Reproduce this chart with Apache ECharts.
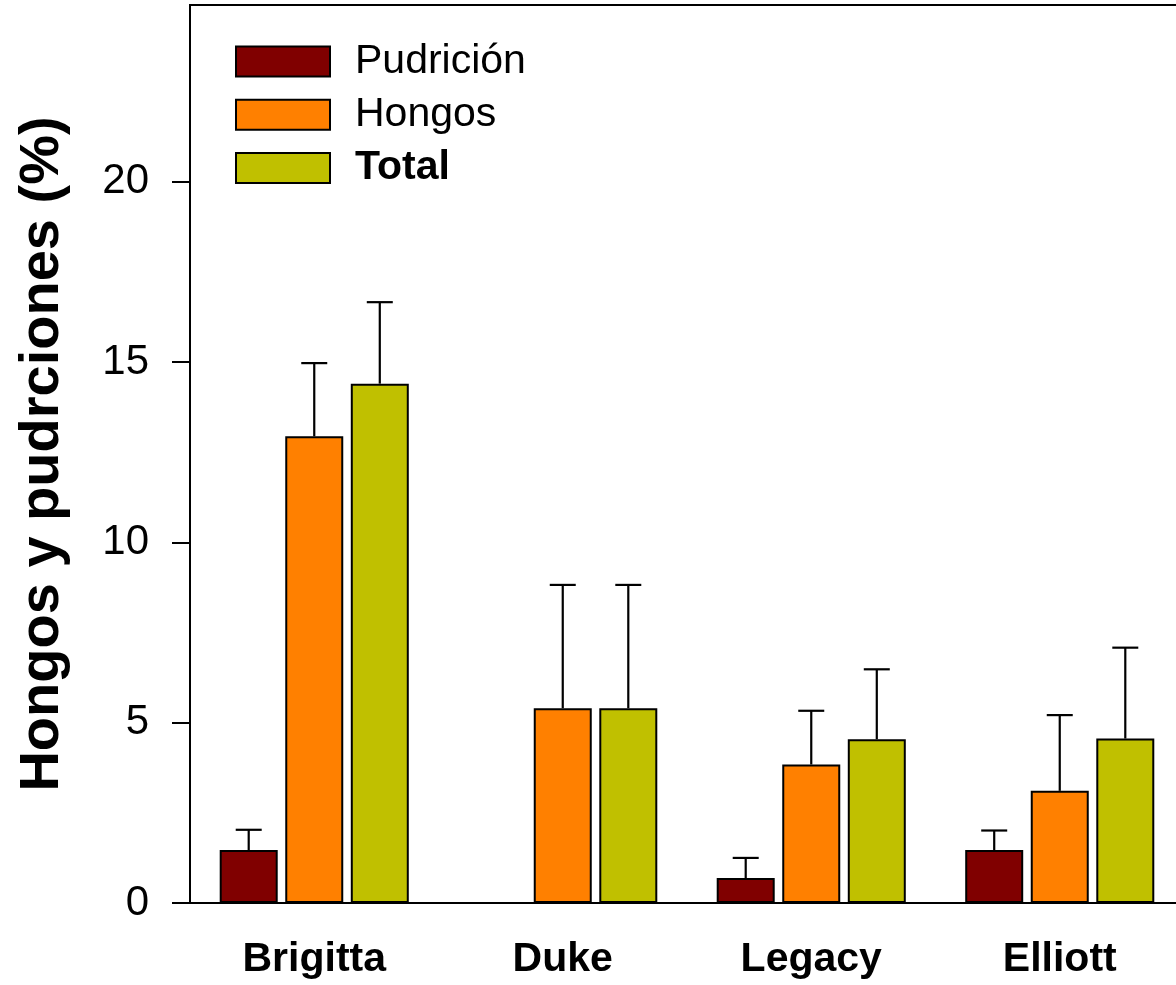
<!DOCTYPE html>
<html>
<head>
<meta charset="utf-8">
<script src="https://cdn.jsdelivr.net/npm/echarts@6/dist/echarts.min.js"></script>
<style>
  html, body { margin: 0; padding: 0; background: #fff; }
  #chart { width: 1176px; height: 985px; }
</style>
</head>
<body>
<div id="chart"></div>
<script>
// Cultivars on the x axis
const categories = ['Brigitta', 'Duke', 'Legacy', 'Elliott'];

// Means (%) and error-bar lengths per cultivar
const pudricion    = [1.47, 0, 0.69, 1.47];
const pudricionErr = [0.56, 0, 0.56, 0.54];
const hongos       = [12.94, 5.40, 3.84, 3.11];
const hongosErr    = [2.03, 3.42, 1.49, 2.10];
const total        = [14.40, 5.40, 4.54, 4.56];
const totalErr     = [2.26, 3.42, 1.94, 2.52];

// Y-axis tick values
const yTicks = [0, 5, 10, 15, 20];

const FONT = '"Liberation Sans", Arial, sans-serif';
const BAR_W = 58;
const BAR_GAP = 0.13;
const STEP = BAR_W * (1 + BAR_GAP);
const CAP = 13;

function errorBars(means, errs, slot) {
  return {
    type: 'custom',
    z: 1,
    silent: true,
    data: means.map((m, i) => [i, m, m + errs[i]]),
    renderItem: function (params, api) {
      if (api.value(2) <= api.value(1)) return null;
      const base = api.coord([api.value(0), api.value(1)]);
      const top = api.coord([api.value(0), api.value(2)]);
      const x = base[0] + slot * STEP;
      const st = { stroke: '#000', lineWidth: 2.2 };
      return {
        type: 'group',
        children: [
          { type: 'line', shape: { x1: x, y1: base[1], x2: x, y2: top[1] }, style: st },
          { type: 'line', shape: { x1: x - CAP, y1: top[1], x2: x + CAP, y2: top[1] }, style: st }
        ]
      };
    }
  };
}

function bars(name, values, color) {
  return {
    name: name,
    type: 'bar',
    z: 2,
    data: values,
    barWidth: BAR_W,
    barGap: (BAR_GAP * 100) + '%',
    itemStyle: { color: color, borderColor: '#000', borderWidth: 2 }
  };
}

const chart = echarts.init(document.getElementById('chart'), null, { renderer: 'canvas' });

chart.setOption({
  animation: false,
  backgroundColor: '#fff',
  textStyle: { fontFamily: FONT },
  grid: {
    left: 190, top: 5, width: 994, height: 898,
    outerBoundsMode: 'none',
    containLabel: false,
    show: true, borderColor: '#000', borderWidth: 2, backgroundColor: 'transparent'
  },
  legend: {
    orient: 'vertical',
    left: 235, top: 41,
    padding: 0,
    itemWidth: 94, itemHeight: 30, itemGap: 12.2,
    icon: 'rect',
    data: ['Pudrición', 'Hongos', 'Total'],
    formatter: function (name) {
      return name === 'Total' ? '{b|' + name + '}' : '{n|' + name + '}';
    },
    textStyle: {
      fontFamily: FONT, fontSize: 41, color: '#000',
      rich: {
        n: { fontFamily: FONT, fontSize: 41, color: '#000', padding: [0, 0, 0, 20] },
        b: { fontFamily: FONT, fontSize: 41, color: '#000', fontWeight: 'bold', padding: [0, 0, 0, 20] }
      }
    }
  },
  xAxis: {
    type: 'category',
    data: categories,
    axisLine: { lineStyle: { color: '#000', width: 2 } },
    axisTick: { alignWithLabel: true, length: 12, lineStyle: { color: '#000', width: 2 } },
    axisLabel: { color: '#000', fontFamily: FONT, fontSize: 41, fontWeight: 'bold', margin: 36 },
    splitLine: { show: false }
  },
  yAxis: {
    type: 'value',
    min: 0, max: 24.9, interval: 5,
    name: 'Hongos y pudrciones (%)',
    nameLocation: 'middle',
    nameRotate: 90,
    nameGap: 119,
    nameTextStyle: { color: '#000', fontFamily: FONT, fontSize: 56, fontWeight: 'bold' },
    axisLine: { show: true, lineStyle: { color: '#000', width: 2 } },
    axisTick: { show: true, length: 18, customValues: yTicks, lineStyle: { color: '#000', width: 2 } },
    axisLabel: { color: '#000', fontFamily: FONT, fontSize: 42, margin: 41, customValues: yTicks },
    splitLine: { show: false }
  },
  series: [
    bars('Pudrición', pudricion, '#800000'),
    bars('Hongos', hongos, '#FF8000'),
    bars('Total', total, '#C0C000'),
    errorBars(pudricion, pudricionErr, -1),
    errorBars(hongos, hongosErr, 0),
    errorBars(total, totalErr, 1)
  ]
});
</script>
</body>
</html>
